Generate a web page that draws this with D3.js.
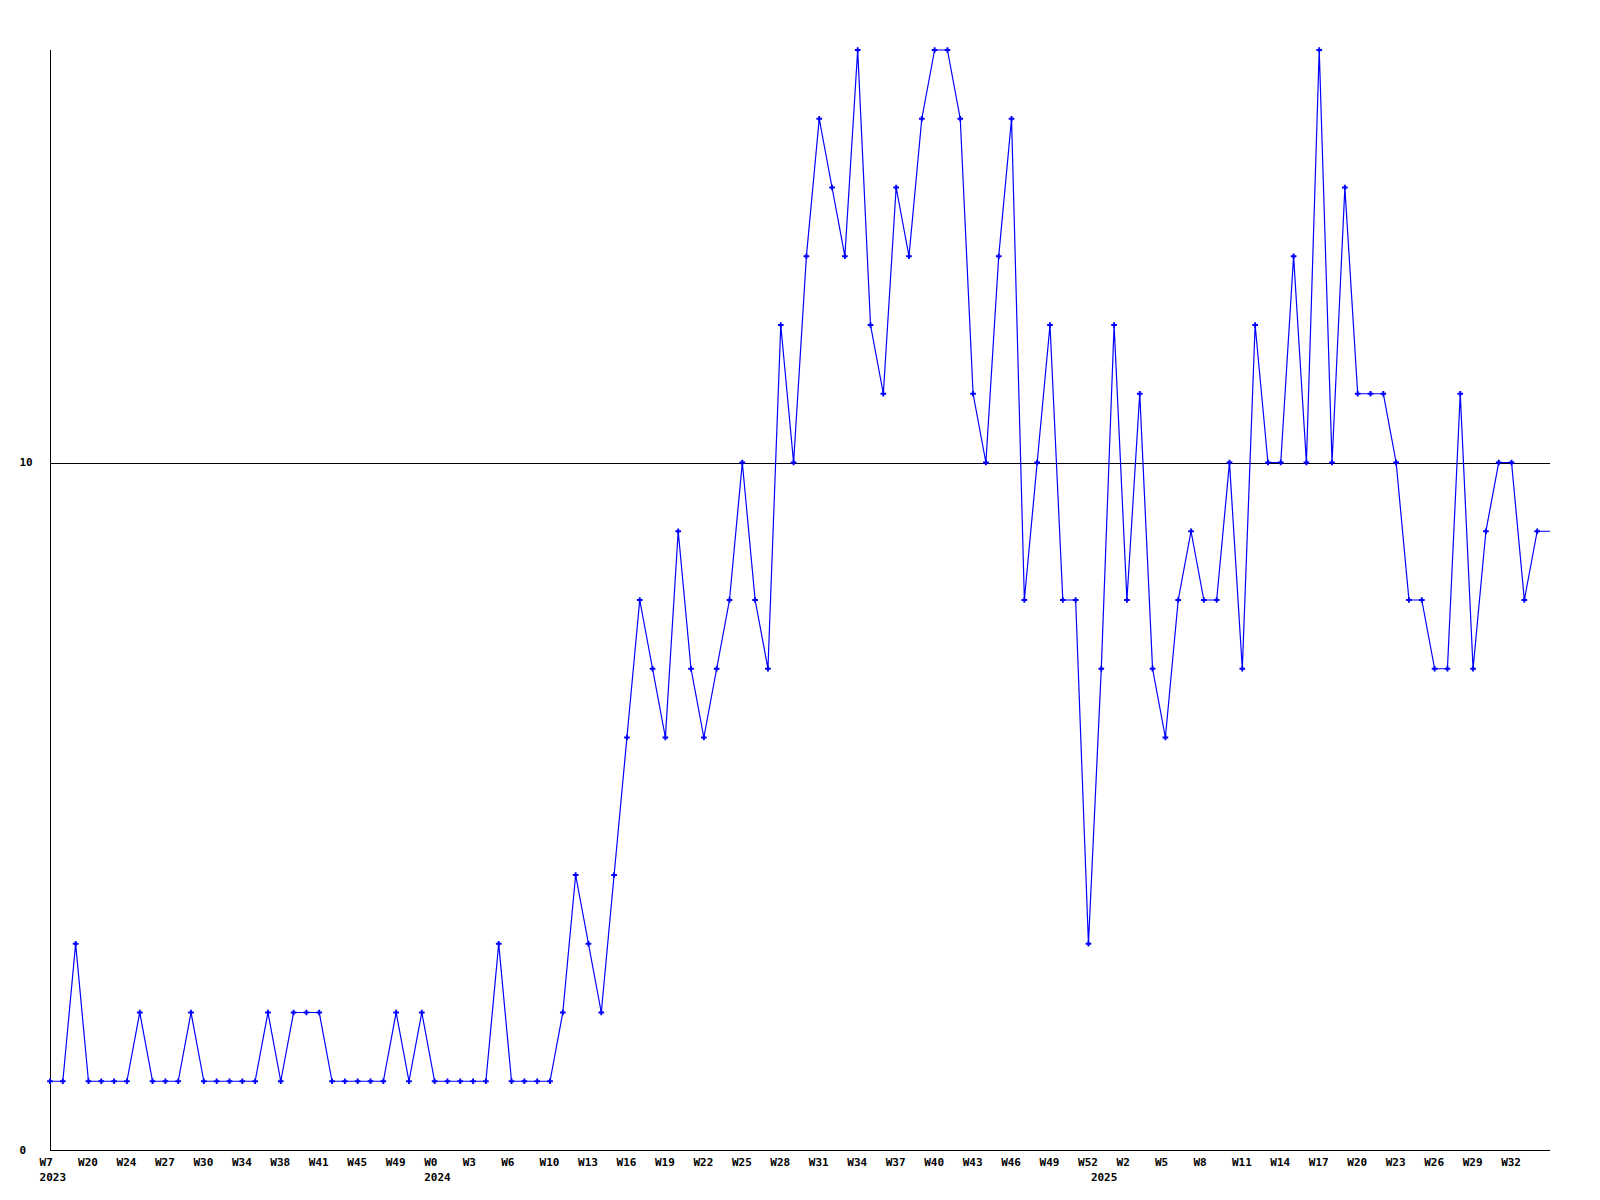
<!DOCTYPE html>
<html>
<head>
<meta charset="utf-8">
<script src="https://cdn.jsdelivr.net/npm/d3@7"></script>
<style>
  html, body { margin: 0; padding: 0; background: #ffffff; }
  svg { display: block; }
  text { font-family: "DejaVu Sans Mono", "Liberation Mono", monospace; font-weight: bold; font-size: 11px; fill: #000; }
</style>
</head>
<body>
<svg id="chart" width="1600" height="1200"></svg>
<script>
// ---- data ----
const values = [
  1, 1, 3, 1, 1, 1, 1, 2, 1, 1,
  1, 2, 1, 1, 1, 1, 1, 2, 1, 2,
  2, 2, 1, 1, 1, 1, 1, 2, 1, 2,
  1, 1, 1, 1, 1, 3, 1, 1, 1, 1,
  2, 4, 3, 2, 4, 6, 8, 7, 6, 9,
  7, 6, 7, 8, 10, 8, 7, 12, 10, 13,
  15, 14, 13, 16, 12, 11, 14, 13, 15, 16,
  16, 15, 11, 10, 13, 15, 8, 10, 12, 8,
  8, 3, 7, 12, 8, 11, 7, 6, 8, 9,
  8, 8, 10, 7, 12, 10, 10, 13, 10, 16,
  10, 14, 11, 11, 11, 10, 8, 8, 7, 7,
  11, 7, 9, 10, 10, 8, 9, 9
];
const weekLabels = [
  "W7", "W20", "W24", "W27", "W30", "W34", "W38", "W41", "W45", "W49",
  "W0", "W3", "W6", "W10", "W13", "W16", "W19", "W22", "W25", "W28",
  "W31", "W34", "W37", "W40", "W43", "W46", "W49", "W52", "W2", "W5",
  "W8", "W11", "W14", "W17", "W20", "W23", "W26", "W29", "W32"
];
const weekLabelStep = 3;
const yearLabels = ["2023", "2024", "2025"];
const yearLabelIndex = [0, 30, 82];
const yTickValues = [0, 10];

// ---- layout ----
const svg = d3.select("#chart");
const mLeft = 50, mRight = 1550, mTop = 50, mBottom = 1150;

const x = d3.scaleLinear().domain([0, values.length - 1]).range([mLeft, mRight]);
const y = d3.scaleLinear().domain([0, 16]).range([mBottom, mTop]);

// axes lines
const axisG = svg.append("g").attr("shape-rendering", "crispEdges");
axisG.append("line")
  .attr("x1", x(0) + 0.5).attr("x2", x(0) + 0.5)
  .attr("y1", y(16)).attr("y2", y(0))
  .attr("stroke", "#000").attr("stroke-width", 1);
axisG.selectAll("line.h")
  .data(yTickValues)
  .join("line")
  .attr("class", "h")
  .attr("x1", x(0)).attr("x2", x(values.length - 1))
  .attr("y1", d => Math.round(y(d)) + 0.5).attr("y2", d => Math.round(y(d)) + 0.5)
  .attr("stroke", "#000").attr("stroke-width", 1);

// y tick labels
svg.append("g").selectAll("text")
  .data(yTickValues)
  .join("text")
  .attr("x", 19.5)
  .attr("y", d => y(d) + 3.5)
  .text(d => d);

// x week labels
svg.append("g").selectAll("text")
  .data(weekLabels)
  .join("text")
  .attr("x", (d, i) => x(i * weekLabelStep) - 10.4)
  .attr("y", 1166)
  .text(d => d);

// year labels
svg.append("g").selectAll("text")
  .data(yearLabels)
  .join("text")
  .attr("x", (d, i) => x(yearLabelIndex[i]) - 10.4)
  .attr("y", 1181)
  .text(d => d);

// series line
const line = d3.line()
  .x((d, i) => x(i))
  .y(d => y(d));

svg.append("path")
  .datum(values)
  .attr("d", line)
  .attr("fill", "none")
  .attr("stroke", "#0000ff")
  .attr("stroke-width", 1.2);

// markers (last point has none)
const cross = d3.symbol().type(d3.symbolCross).size(18);
svg.append("g").selectAll("path")
  .data(values.slice(0, values.length - 1))
  .join("path")
  .attr("transform", (d, i) => `translate(${x(i)},${y(d)})`)
  .attr("d", cross)
  .attr("fill", "#0000ff");
</script>
</body>
</html>
